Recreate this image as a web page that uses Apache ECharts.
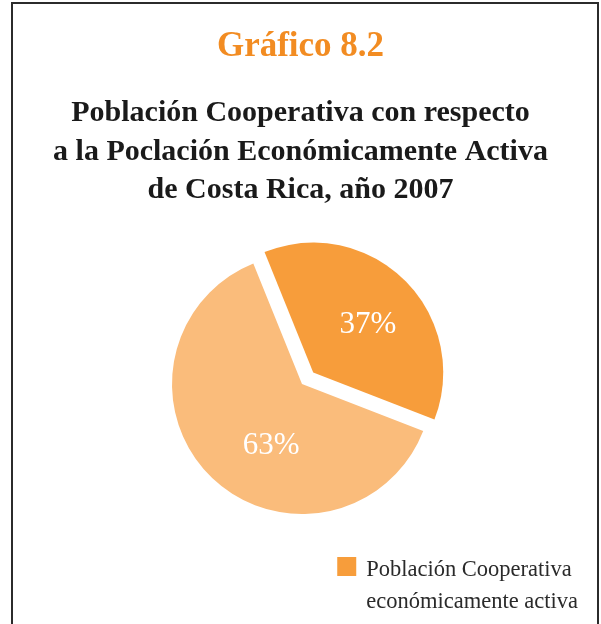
<!DOCTYPE html>
<html>
<head>
<meta charset="utf-8">
<script src="https://cdn.jsdelivr.net/npm/echarts@6/dist/echarts.min.js"></script>
<style>
html,body{margin:0;padding:0;background:#fff;}
#c{width:601px;height:624px;}
</style>
</head>
<body>
<div id="c"></div>
<script>
const titleText = 'Gráfico 8.2';
const subtitleLines = ['Población Cooperativa con respecto', 'a la Poclación Económicamente Activa', 'de Costa Rica, año 2007'];
const categories = ['Población Cooperativa', 'Población económicamente activa'];
const values = [37, 63];
const legendLabel = 'Población Cooperativa\neconómicamente activa';
const colors = ['#F79D3B', '#FABC7B'];

const chart = echarts.init(document.getElementById('c'), null, {renderer: 'canvas'});
const serif = '"Liberation Serif", "DejaVu Serif", serif';
const labelOffsets = [[7, 1], [17, 13]];

chart.setOption({
  animation: false,
  backgroundColor: '#ffffff',
  title: [
    {text: titleText, left: 'center', top: 24,
     textStyle: {fontFamily: serif, fontWeight: 'bold', fontSize: 35, color: '#F28C22'}},
    {text: subtitleLines.join('\n'), left: 'center', top: 89,
     textStyle: {fontFamily: serif, fontWeight: 'bold', fontSize: 30, lineHeight: 38.5, color: '#1a1a1a', align: 'center'}}
  ],
  legend: {
    data: [categories[0]],
    right: 23, top: 554, padding: 0,
    icon: 'path://M0,0H19V19H0Z M23.9,57.9H24V58H23.9Z',
    itemWidth: 24, itemHeight: 58, itemGap: 8,
    formatter: function () { return legendLabel; },
    textStyle: {fontFamily: serif, fontSize: 22.5, lineHeight: 32, color: '#2a2a2a'}
  },
  graphic: [
    {type: 'polyline', shape: {points: [[12, 624], [12, 3], [598, 3], [598, 624]]},
     style: {stroke: '#2b2b2b', lineWidth: 2, fill: null}, silent: true}
  ],
  series: [{
    type: 'pie',
    center: [302, 384],
    radius: [0, 130],
    startAngle: 112,
    clockwise: true,
    selectedMode: 'single',
    selectedOffset: 16,
    avoidLabelOverlap: false,
    label: {show: true, position: 'inside', formatter: '{d}%',
      fontFamily: serif, fontSize: 31, color: '#ffffff'},
    labelLine: {show: false},
    emphasis: {disabled: true},
    data: values.map((v, i) => ({
      value: v, name: categories[i], selected: i === 0,
      itemStyle: {color: colors[i]},
      label: {offset: labelOffsets[i]},
      select: {itemStyle: {color: colors[i]}, label: {offset: labelOffsets[i], color: '#ffffff'}}
    }))
  }]
});
</script>
</body>
</html>
